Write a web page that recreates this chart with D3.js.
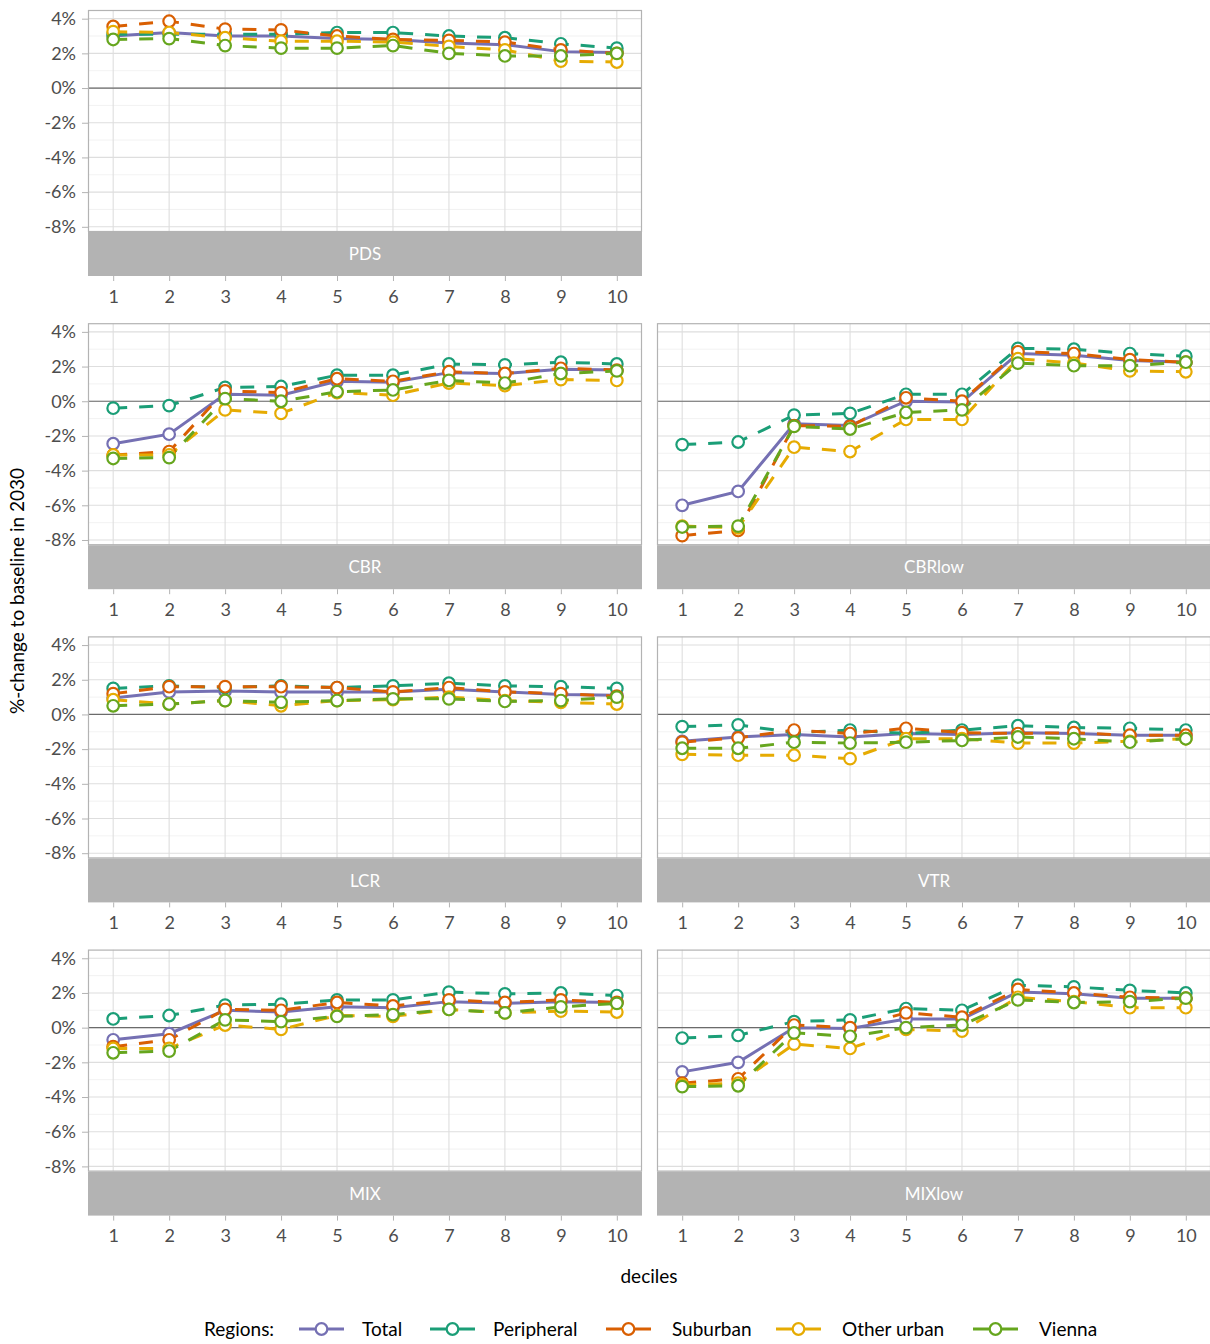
<!DOCTYPE html>
<html><head><meta charset="utf-8">
<script src="https://cdn.jsdelivr.net/npm/d3@7"></script>
<style>
body{margin:0;background:#fff;}
text{font-family:Lato,"Open Sans",sans-serif;}
</style>
</head><body>
<svg id="c" width="1210" height="1344"></svg>
<script>
// ---------- data ----------
const deciles = [1,2,3,4,5,6,7,8,9,10];
const regions = ["Total","Peripheral","Suburban","Other urban","Vienna"];
const yTicks = [-8,-6,-4,-2,0,2,4];
const yMinor = [-7,-5,-3,-1,1,3];
const scenarios = ["PDS","CBR","CBRlow","LCR","VTR","MIX","MIXlow"];
// each scenario: rows = regions (Total, Peripheral, Suburban, Other urban, Vienna), cols = deciles 1..10
const PDS = [
  [3.0,3.2,3.0,3.0,2.85,2.8,2.6,2.5,2.1,2.05],
  [3.1,3.1,3.1,3.1,3.2,3.2,3.0,2.9,2.55,2.3],
  [3.55,3.85,3.4,3.35,3.0,2.8,2.75,2.65,2.2,2.0],
  [3.25,3.2,2.9,2.7,2.7,2.65,2.4,2.2,1.55,1.5],
  [2.8,2.85,2.45,2.3,2.3,2.45,2.0,1.85,1.85,2.0]
];
const CBR = [
  [-2.45,-1.9,0.4,0.35,1.15,1.1,1.65,1.6,1.85,1.8],
  [-0.4,-0.25,0.8,0.85,1.5,1.5,2.15,2.1,2.25,2.15],
  [-3.1,-2.9,0.6,0.5,1.3,1.15,1.7,1.6,1.9,1.8],
  [-3.1,-3.1,-0.5,-0.7,0.5,0.35,1.05,0.9,1.25,1.2],
  [-3.3,-3.25,0.15,0.0,0.55,0.65,1.2,1.05,1.6,1.75]
];
const CBRlow = [
  [-6.0,-5.2,-1.3,-1.4,0.0,-0.05,2.75,2.65,2.35,2.25],
  [-2.5,-2.35,-0.8,-0.7,0.4,0.4,3.05,3.0,2.75,2.6],
  [-7.75,-7.45,-1.4,-1.45,0.2,0.0,2.85,2.75,2.4,2.25],
  [-7.2,-7.3,-2.65,-2.9,-1.05,-1.05,2.45,2.2,1.75,1.7],
  [-7.25,-7.2,-1.45,-1.6,-0.65,-0.5,2.2,2.05,2.05,2.25]
];
const LCR = [
  [0.95,1.3,1.35,1.3,1.3,1.3,1.45,1.3,1.15,1.1],
  [1.5,1.65,1.55,1.65,1.55,1.65,1.8,1.65,1.6,1.5],
  [1.2,1.6,1.6,1.6,1.55,1.3,1.55,1.3,1.2,1.05],
  [0.85,0.6,0.8,0.5,0.8,0.85,1.0,0.8,0.7,0.6],
  [0.5,0.6,0.8,0.7,0.8,0.9,0.9,0.75,0.8,1.0]
];
const VTR = [
  [-1.55,-1.3,-1.15,-1.3,-1.1,-1.15,-1.05,-1.1,-1.2,-1.2],
  [-0.7,-0.6,-1.05,-0.9,-1.1,-0.9,-0.65,-0.75,-0.8,-0.9],
  [-1.6,-1.35,-0.9,-1.1,-0.8,-1.05,-1.1,-1.05,-1.2,-1.2],
  [-2.3,-2.35,-2.35,-2.55,-1.4,-1.4,-1.65,-1.65,-1.55,-1.4],
  [-1.95,-1.95,-1.6,-1.65,-1.6,-1.5,-1.3,-1.4,-1.6,-1.4]
];
const MIX = [
  [-0.7,-0.35,1.0,0.9,1.2,1.15,1.5,1.4,1.5,1.45],
  [0.5,0.7,1.3,1.35,1.6,1.6,2.05,1.95,2.0,1.85],
  [-1.1,-0.7,1.05,1.0,1.45,1.25,1.6,1.45,1.6,1.45],
  [-1.2,-1.2,0.15,-0.1,0.7,0.65,1.05,0.85,0.95,0.9],
  [-1.45,-1.35,0.45,0.35,0.65,0.75,1.05,0.85,1.2,1.4]
];
const MIXlow = [
  [-2.55,-2.0,0.0,-0.05,0.5,0.5,2.05,1.95,1.7,1.7],
  [-0.6,-0.45,0.35,0.45,1.1,1.0,2.45,2.35,2.15,2.0],
  [-3.2,-2.95,0.15,0.0,0.85,0.6,2.2,2.0,1.75,1.7],
  [-3.3,-3.2,-0.95,-1.2,-0.1,-0.2,1.75,1.5,1.15,1.15],
  [-3.4,-3.35,-0.3,-0.5,0.0,0.15,1.6,1.45,1.5,1.7]
];
const scenarioData = [PDS,CBR,CBRlow,LCR,VTR,MIX,MIXlow];

// ---------- layout / style ----------
const colors = ["#7570b3","#1b9e77","#d95f02","#e6ab02","#66a61e"];
const panelPos = [[0,0],[1,0],[1,1],[2,0],[2,1],[3,0],[3,1]];
const PW = 554, PH = 222, STRIP = 44;
const colX = [88, 657];
const rowY = r => 10 + r*313.2;

const svg = d3.select("#c");
const x = d3.scaleLinear().domain([0.55,10.45]).range([0,PW]);
const y = d3.scaleLinear().domain([-8.3,4.5]).range([PH,0]);
const line = d3.line().x((d,i)=>x(deciles[i])).y(d=>y(d));

scenarios.forEach((name,si)=>{
  const [r,c] = panelPos[si];
  const g = svg.append("g").attr("transform",`translate(${colX[c]},${rowY(r)})`);
  const cid = "clip"+si;
  g.append("clipPath").attr("id",cid).append("rect").attr("width",PW).attr("height",PH);
  const pg = g.append("g").attr("clip-path",`url(#${cid})`);
  pg.append("rect").attr("width",PW).attr("height",PH).attr("fill","#fff");
  // grid
  pg.selectAll(".ym").data(yMinor).enter().append("line")
    .attr("x1",0).attr("x2",PW).attr("y1",d=>y(d)).attr("y2",d=>y(d))
    .attr("stroke","#ececec").attr("stroke-width",0.7);
  pg.selectAll(".yM").data(yTicks).enter().append("line")
    .attr("x1",0).attr("x2",PW).attr("y1",d=>y(d)).attr("y2",d=>y(d))
    .attr("stroke","#dedede").attr("stroke-width",1.1);
  pg.selectAll(".xM").data(deciles).enter().append("line")
    .attr("y1",0).attr("y2",PH).attr("x1",d=>x(d)).attr("x2",d=>x(d))
    .attr("stroke","#dedede").attr("stroke-width",1.1);
  // zero line
  pg.append("line").attr("x1",0).attr("x2",PW).attr("y1",y(0)).attr("y2",y(0))
    .attr("stroke","#6b6b6b").attr("stroke-width",1.2);
  const data = scenarioData[si];
  // lines
  data.forEach((vals,ri)=>{
    pg.append("path").attr("d",line(vals)).attr("fill","none")
      .attr("stroke",colors[ri]).attr("stroke-width",3)
      .attr("stroke-dasharray", ri===0 ? null : "14,12");
  });
  // points
  data.forEach((vals,ri)=>{
    pg.selectAll(null).data(vals).enter().append("circle")
      .attr("cx",(d,i)=>x(deciles[i])).attr("cy",d=>y(d)).attr("r",5.8)
      .attr("fill","#fff").attr("stroke",colors[ri]).attr("stroke-width",2.2);
  });
  // border
  g.append("rect").attr("x",0.5).attr("y",0.5).attr("width",PW-1).attr("height",PH-1)
    .attr("fill","none").attr("stroke","#b3b3b3").attr("stroke-width",1.2);
  // strip
  g.append("rect").attr("x",0).attr("y",PH).attr("width",PW).attr("height",STRIP).attr("fill","#b3b3b3");
  g.append("text").attr("x",PW/2).attr("y",PH+STRIP/2).attr("dy","0.36em")
    .attr("text-anchor","middle").attr("fill","#ffffff").attr("font-size",17).text(name);
  // x axis
  const xa = g.append("g").attr("transform",`translate(0,${PH+STRIP})`)
    .call(d3.axisBottom(x).tickValues(deciles).tickSize(5).tickPadding(9).tickFormat(d3.format("d")));
  xa.select(".domain").remove();
  xa.selectAll("line").attr("stroke","#b3b3b3");
  xa.selectAll("text").attr("fill","#4d4d4d").attr("font-size",18).attr("font-family","Lato");
  // y axis
  if (c===0){
    const ya = g.append("g")
      .call(d3.axisLeft(y).tickValues(yTicks).tickSize(6).tickPadding(6).tickFormat(d=>d+"%"));
    ya.select(".domain").remove();
    ya.selectAll("line").attr("stroke","#b3b3b3");
    ya.selectAll("text").attr("fill","#4d4d4d").attr("font-size",18).attr("font-family","Lato");
  }
});

// axis titles
svg.append("text").attr("transform","translate(24,591) rotate(-90)")
  .attr("text-anchor","middle").attr("font-size",19).attr("fill","#000").text("%-change to baseline in 2030");
svg.append("text").attr("x",649).attr("y",1283)
  .attr("text-anchor","middle").attr("font-size",19).attr("fill","#000").text("deciles");

// legend
const legY = 1329;
svg.append("text").attr("x",204).attr("y",legY).attr("dy","0.36em").attr("font-size",19).attr("fill","#000").text("Regions:");
const keyX = [299,430,606,776,973];
const txtX = [362,493,672,842,1039];
regions.forEach((rname,i)=>{
  const k = svg.append("g").attr("transform",`translate(${keyX[i]},${legY})`);
  k.append("line").attr("x1",0).attr("x2",45).attr("y1",0).attr("y2",0)
    .attr("stroke",colors[i]).attr("stroke-width",3)
    .attr("stroke-dasharray", i===0 ? null : "16,13");
  k.append("circle").attr("cx",22.5).attr("cy",0).attr("r",5.8)
    .attr("fill","#fff").attr("stroke",colors[i]).attr("stroke-width",2.2);
  svg.append("text").attr("x",txtX[i]).attr("y",legY).attr("dy","0.36em")
    .attr("font-size",19).attr("fill","#000").text(rname);
});
</script>
</body></html>
